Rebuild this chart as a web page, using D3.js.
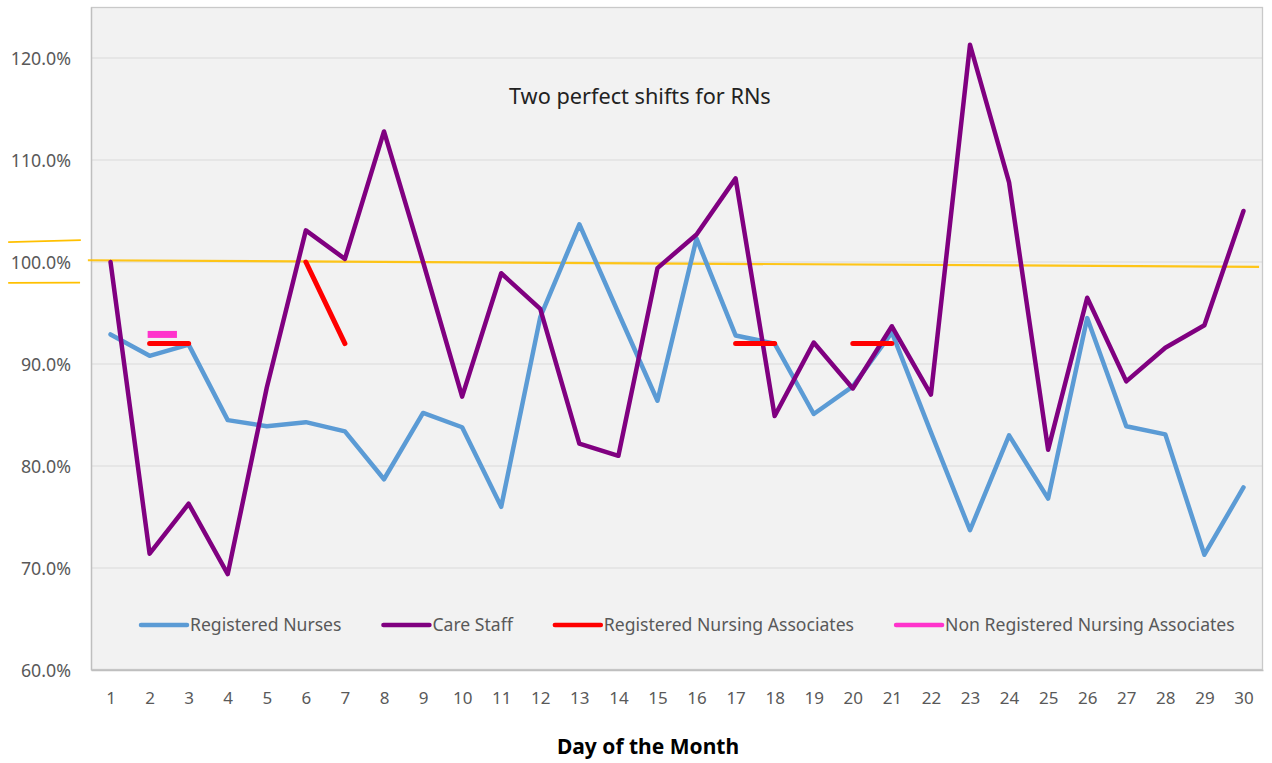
<!DOCTYPE html>
<html>
<head>
<meta charset="utf-8">
<script src="https://cdn.jsdelivr.net/npm/d3@7/dist/d3.min.js"></script>
<style>
  html, body { margin: 0; padding: 0; background: #ffffff; }
  svg { display: block; font-family: "Noto Sans", "Open Sans", sans-serif; }
</style>
</head>
<body>
<svg id="chart" width="1272" height="763"></svg>
<script>
// Days of the month (x categories)
const days = d3.range(1, 31);

// Fill rate per day, in percent
const registeredNurses = [92.9, 90.8, 91.9, 84.5, 83.9, 84.3, 83.4, 78.7, 85.2, 83.8,
                          76.0, 94.6, 103.7, 95.0, 86.4, 102.3, 92.8, 92.0, 85.1, 87.8,
                          93.1, 83.3, 73.7, 83.0, 76.8, 94.5, 83.9, 83.1, 71.3, 77.9];
const careStaff =        [100.0, 71.4, 76.3, 69.4, 87.7, 103.1, 100.3, 112.8, 100.0, 86.8,
                          98.9, 95.4, 82.2, 81.0, 99.4, 102.7, 108.2, 84.9, 92.1, 87.6,
                          93.7, 87.0, 121.3, 107.8, 81.6, 96.5, 88.3, 91.6, 93.8, 105.0];
const registeredNursingAssociates = [null, 92.0, 92.0, null, null, 100.0, 92.0, null, null, null,
                                     null, null, null, null, null, null, 92.0, 92.0, null, 92.0,
                                     92.0, null, null, null, null, null, null, null, null, null];
// Non registered associates: one short bar early in the month
const nonRegisteredDays = [1.95, 2.7];
const nonRegisteredValues = [92.9, 92.9];

// Y axis ticks
const yTicks = [60, 70, 80, 90, 100, 110, 120];

// Series names and colours for the legend
const seriesNames = ["Registered Nurses", "Care Staff", "Registered Nursing Associates", "Non Registered Nursing Associates"];
const seriesColors = ["#5B9BD5", "#800080", "#FF0000", "#FF33CC"];

// Hand-drawn 100% target marker (day, value)
const targetLineDays = [0.42, 30.4];
const targetLineValues = [100.17, 99.53];
const targetTickUpperDays = [-1.62, 0.24];
const targetTickUpperValues = [101.95, 102.15];
const targetTickLowerDays = [-1.62, 0.22];
const targetTickLowerValues = [97.95, 97.98];

const noteText = "Two perfect shifts for RNs";
const xTitle = "Day of the Month";

const svg = d3.select("#chart");
const plot = { left: 91, right: 1263, top: 7, bottom: 670 };

const x = d3.scaleLinear().domain([0.5, 30.5]).range([plot.left, plot.right]);
const y = d3.scaleLinear().domain([60, 125]).range([plot.bottom, plot.top]);

// Plot area background
svg.append("rect")
  .attr("x", plot.left).attr("y", plot.top)
  .attr("width", plot.right - plot.left).attr("height", plot.bottom - plot.top)
  .attr("fill", "#F2F2F2");

// Gridlines
svg.append("g")
  .selectAll("line")
  .data(yTicks.filter(t => t > 60))
  .join("line")
  .attr("x1", plot.left).attr("x2", plot.right)
  .attr("y1", d => y(d)).attr("y2", d => y(d))
  .attr("stroke", "#D9D9D9").attr("stroke-width", 1.2);

// Plot border
svg.append("rect")
  .attr("x", plot.left + 0.5).attr("y", plot.top + 0.5)
  .attr("width", plot.right - plot.left - 1).attr("height", plot.bottom - plot.top - 1)
  .attr("fill", "none").attr("stroke", "#C9C9C9").attr("stroke-width", 1.3);

// Y axis
const yAxis = svg.append("g")
  .attr("transform", `translate(${plot.left},0)`)
  .call(d3.axisLeft(y).tickValues(yTicks).tickSize(0).tickPadding(20)
    .tickFormat(d => d.toFixed(1) + "%"));
yAxis.select(".domain").attr("stroke", "#BFBFBF").attr("stroke-width", 1.3);
yAxis.selectAll("text").attr("fill", "#595959").attr("font-size", 17.8)
  .attr("font-family", "Noto Sans").attr("dy", "0.36em");

// X axis
const xAxis = svg.append("g")
  .attr("transform", `translate(0,${plot.bottom})`)
  .call(d3.axisBottom(x).tickValues(days).tickSize(0).tickPadding(22).tickFormat(d3.format("d")));
xAxis.select(".domain").attr("stroke", "#BFBFBF").attr("stroke-width", 1.3);
xAxis.selectAll("text").attr("fill", "#595959").attr("font-size", 17)
  .attr("font-family", "Noto Sans");

// X axis title
svg.append("text")
  .attr("x", 648).attr("y", 754)
  .attr("text-anchor", "middle")
  .attr("font-size", 21).attr("font-weight", "bold").attr("fill", "#000")
  .text(xTitle);

// Annotation text
svg.append("text")
  .attr("x", x(14.55)).attr("y", 104)
  .attr("text-anchor", "middle")
  .attr("font-size", 21.7).attr("fill", "#222")
  .text(noteText);

const line = d3.line()
  .defined(d => d.v != null)
  .x(d => x(d.day))
  .y(d => y(d.v));

const toPoints = vals => vals.map((v, i) => ({ day: days[i], v }));

// Target 100% annotation (drawn under the series)
const pair = (ds, vs) => ds.map((d, i) => ({ day: d, v: vs[i] }));
svg.append("path")
  .attr("d", line(pair(targetLineDays, targetLineValues)))
  .attr("fill", "none").attr("stroke", "#FFC000").attr("stroke-width", 2.2).attr("opacity", 0.9);

svg.append("path")
  .attr("d", line(toPoints(registeredNurses)))
  .attr("fill", "none").attr("stroke", seriesColors[0]).attr("stroke-width", 4.5)
  .attr("stroke-linejoin", "round").attr("stroke-linecap", "round");

svg.append("path")
  .attr("d", line(toPoints(careStaff)))
  .attr("fill", "none").attr("stroke", seriesColors[1]).attr("stroke-width", 4.5)
  .attr("stroke-linejoin", "round").attr("stroke-linecap", "round");

svg.append("path")
  .attr("d", line(toPoints(registeredNursingAssociates)))
  .attr("fill", "none").attr("stroke", seriesColors[2]).attr("stroke-width", 5)
  .attr("stroke-linejoin", "round").attr("stroke-linecap", "round");

svg.append("path")
  .attr("d", line(pair(nonRegisteredDays, nonRegisteredValues)))
  .attr("fill", "none").attr("stroke", seriesColors[3]).attr("stroke-width", 7)
  .attr("stroke-linecap", "butt");

// Short target marks beside the 100% tick label
[[targetTickUpperDays, targetTickUpperValues], [targetTickLowerDays, targetTickLowerValues]].forEach(([ds, vs]) => {
  svg.append("path")
    .attr("d", line(pair(ds, vs)))
    .attr("fill", "none").attr("stroke", "#FFC000").attr("stroke-width", 1.8);
});

// Legend inside the plot area
const legend = svg.append("g").attr("transform", "translate(141,625)");
let lx = 0;
seriesNames.forEach((name, i) => {
  const g = legend.append("g").attr("transform", `translate(${lx},0)`);
  g.append("line").attr("x1", 0).attr("x2", 46).attr("y1", 0).attr("y2", 0)
    .attr("stroke", seriesColors[i]).attr("stroke-width", 4.5).attr("stroke-linecap", "round");
  const t = g.append("text").attr("x", 49).attr("y", 0).attr("dy", "0.35em")
    .attr("font-size", 17.6).attr("fill", "#595959").text(name);
  lx += 49 + t.node().getComputedTextLength() + 42;
});
</script>
</body>
</html>
